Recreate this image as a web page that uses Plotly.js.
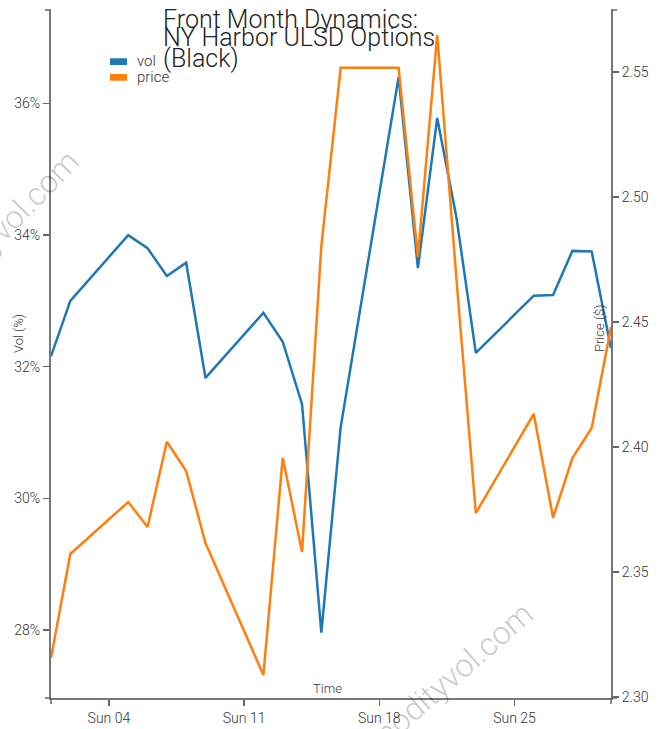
<!DOCTYPE html>
<html>
<head>
<meta charset="utf-8">
<script src="https://cdn.plot.ly/plotly-3.0.1.min.js"></script>
<style>
html, body { margin: 0; padding: 0; background: #fff; }
#chart { width: 661px; height: 729px; }
</style>
</head>
<body>
<div id="chart"></div>
<script>
const dates = ['2024-02-01','2024-02-02','2024-02-05','2024-02-06','2024-02-07','2024-02-08','2024-02-09',
  '2024-02-12','2024-02-13','2024-02-14','2024-02-15','2024-02-16','2024-02-19','2024-02-20','2024-02-21',
  '2024-02-22','2024-02-23','2024-02-26','2024-02-27','2024-02-28','2024-02-29','2024-03-01'];
const vol = [32.16,33.00,34.00,33.80,33.38,33.58,31.83,32.82,32.38,31.43,27.96,31.08,36.40,33.50,35.78,
  34.26,32.21,33.08,33.09,33.76,33.75,32.28];
const price = [2.3155,2.3571,2.3779,2.3679,2.4020,2.3903,2.3615,2.3087,2.3956,2.3579,2.4803,2.5516,2.5516,
  2.4759,2.5647,2.4667,2.3735,2.4131,2.3716,2.3955,2.4075,2.4479];
const seriesNames = ['vol', 'price'];
const seriesColors = ['#1f77b4', '#ff7f0e'];
const titleLines = ['Front Month Dynamics:', 'NY Harbor ULSD Options', '(Black)'];
const watermark = 'commodityvol.com';

const FONT = 'Roboto, "Open Sans", sans-serif';
const axisCommon = {
  showgrid: false, zeroline: false, showline: true,
  linecolor: '#777', linewidth: 2,
  ticks: 'outside', ticklen: 6, tickwidth: 1.5, tickcolor: '#666',
  tickfont: { family: FONT, size: 14, color: '#333', weight: 300 }
};

const traces = [
  { x: dates, y: vol, name: seriesNames[0], type: 'scatter', mode: 'lines', yaxis: 'y',
    line: { color: seriesColors[0], width: 2.5 } },
  { x: dates, y: price, name: seriesNames[1], type: 'scatter', mode: 'lines', yaxis: 'y2',
    line: { color: seriesColors[1], width: 2.5 } }
];

const tickShape = (o) => Object.assign({ type: 'line', line: { color: '#666', width: 1.5 } }, o);
const ann = (o) => Object.assign({ xref: 'paper', yref: 'paper', showarrow: false,
  xanchor: 'center', yanchor: 'middle' }, o);

const layout = {
  width: 661, height: 729,
  margin: { l: 51, r: 50, t: 10, b: 31, pad: 0 },
  paper_bgcolor: '#fff', plot_bgcolor: '#fff',
  showlegend: false,
  font: { family: FONT },
  xaxis: Object.assign({}, axisCommon, {
    type: 'date', range: ['2024-02-01', '2024-03-01'],
    tick0: '2024-02-04', dtick: 7 * 24 * 3600 * 1000, tickformat: '%a %d'
  }),
  yaxis: Object.assign({}, axisCommon, {
    range: [26.967, 37.42], dtick: 2, tick0: 0, ticksuffix: '%'
  }),
  yaxis2: Object.assign({}, axisCommon, {
    overlaying: 'y', side: 'right',
    range: [2.2995, 2.5747], dtick: 0.05, tick0: 0, tickformat: '.2f'
  }),
  shapes: [
    // legend swatches
    { type: 'rect', xref: 'paper', yref: 'paper', x0: 0.1054, x1: 0.1357, y0: 0.9201, y1: 0.9298,
      fillcolor: seriesColors[0], line: { width: 0 } },
    { type: 'rect', xref: 'paper', yref: 'paper', x0: 0.1054, x1: 0.1357, y0: 0.8972, y1: 0.9070,
      fillcolor: seriesColors[1], line: { width: 0 } },
    // outer ticks at axis ends
    tickShape({ xref: 'paper', yref: 'paper', xsizemode: 'pixel', xanchor: 0, x0: -6, x1: 0, y0: 1, y1: 1 }),
    tickShape({ xref: 'paper', yref: 'paper', xsizemode: 'pixel', xanchor: 0, x0: -6, x1: 0, y0: 0, y1: 0 }),
    tickShape({ xref: 'paper', yref: 'paper', xsizemode: 'pixel', xanchor: 1, x0: 0, x1: 6, y0: 1, y1: 1 }),
    tickShape({ xref: 'paper', yref: 'paper', xsizemode: 'pixel', xanchor: 1, x0: 0, x1: 6, y0: 0, y1: 0 }),
    tickShape({ xref: 'paper', yref: 'paper', ysizemode: 'pixel', yanchor: 0, x0: 0, x1: 0, y0: 0, y1: -6 }),
    tickShape({ xref: 'paper', yref: 'paper', ysizemode: 'pixel', yanchor: 0, x0: 1, x1: 1, y0: 0, y1: -6 })
  ],
  annotations: [
    // watermarks
    ann({ text: watermark, x: -0.1286, y: 0.6468, textangle: -46,
      font: { family: FONT, size: 32, color: 'rgba(0,0,0,0.22)', weight: 300 } }),
    ann({ text: watermark, x: 0.6696, y: 0.0, textangle: -41,
      font: { family: FONT, size: 32, color: 'rgba(0,0,0,0.22)', weight: 300 } }),
    // title lines
    ann({ text: titleLines[0], x: 0.1964, y: 0.9868, xanchor: 'left',
      font: { family: FONT, size: 25, color: '#222', weight: 300 } }),
    ann({ text: titleLines[1], x: 0.1964, y: 0.9596, xanchor: 'left',
      font: { family: FONT, size: 25, color: '#222', weight: 300 } }),
    ann({ text: titleLines[2], x: 0.1964, y: 0.9298, xanchor: 'left',
      font: { family: FONT, size: 25, color: '#222', weight: 300 } }),
    // legend labels
    ann({ text: seriesNames[0], x: 0.1500, y: 0.926, xanchor: 'left',
      font: { family: FONT, size: 15, color: '#333', weight: 300 } }),
    ann({ text: seriesNames[1], x: 0.1500, y: 0.9028, xanchor: 'left',
      font: { family: FONT, size: 15, color: '#333', weight: 300 } }),
    // axis titles
    ann({ text: 'Vol (%)', x: -0.0589, y: 0.529, textangle: -90,
      font: { family: FONT, size: 13, color: '#333', weight: 300 } }),
    ann({ text: 'Price ($)', x: 0.9804, y: 0.5378, textangle: -90,
      font: { family: FONT, size: 13, color: '#333', weight: 300 } }),
    ann({ text: 'Time', x: 0.4929, y: 0.0137,
      font: { family: FONT, size: 13, color: '#333', weight: 300 } })
  ]
};

Plotly.newPlot('chart', traces, layout, { displayModeBar: false, staticPlot: true });
</script>
</body>
</html>
